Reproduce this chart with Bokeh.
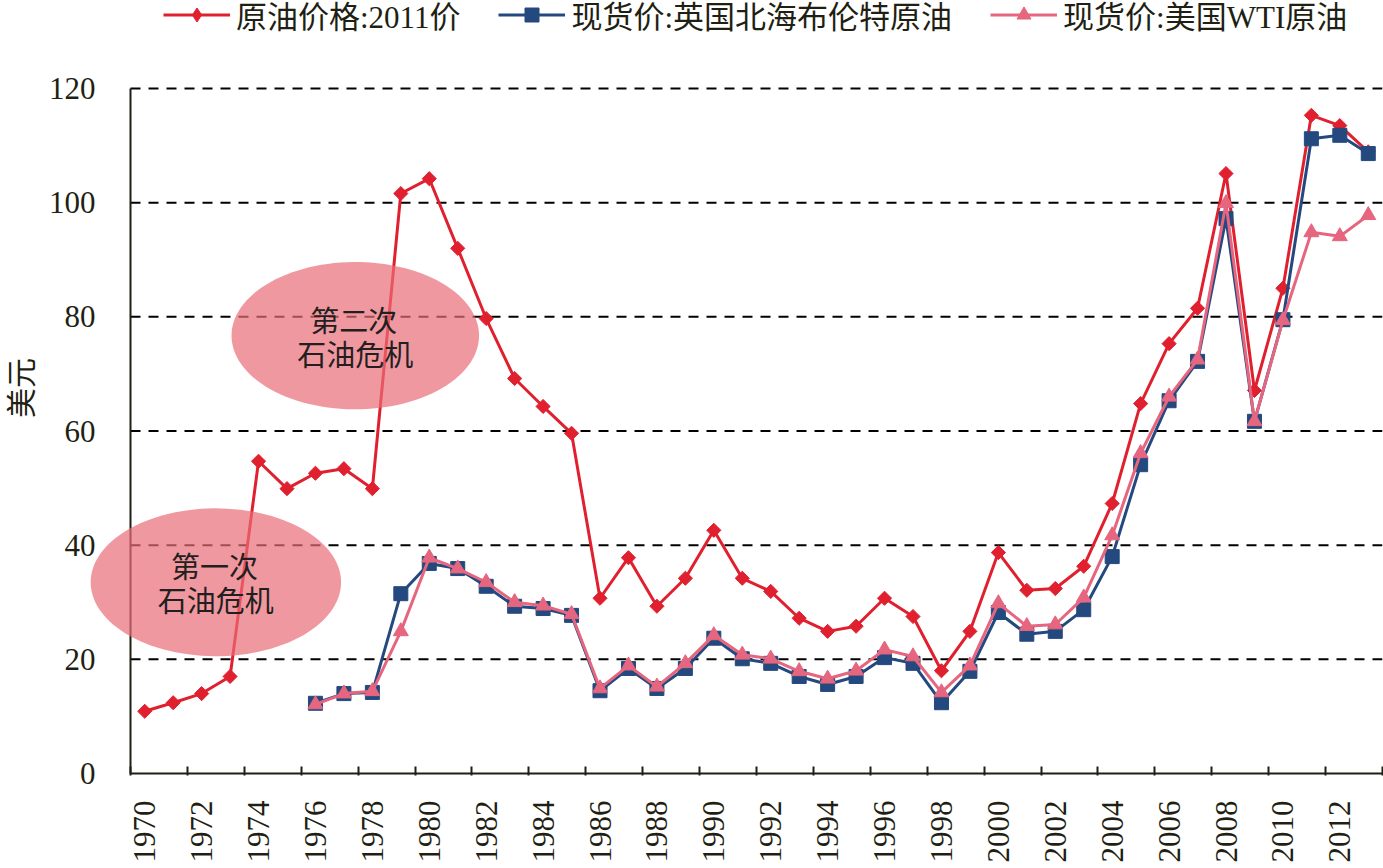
import numpy as np
from bokeh.plotting import figure
from bokeh.models import Range1d, FixedTicker, Legend, LegendItem, PolyAnnotation, Label
from bokeh.embed import file_html
from bokeh.resources import INLINE

# ---------------- data ----------------
years = list(range(1970, 2014))
spot_years = list(range(1976, 2014))
real_2011 = [10.9, 12.4, 14.0, 17.0, 54.7, 49.9, 52.6, 53.4, 49.9, 101.6,
             104.2, 92.0, 79.7, 69.2, 64.3, 59.6, 30.7, 37.8, 29.3, 34.2,
             42.6, 34.2, 31.9, 27.2, 24.9, 25.8, 30.7, 27.5, 18.0, 24.9,
             38.7, 32.1, 32.4, 36.3, 47.3, 64.8, 75.3, 81.5, 105.1, 67.1,
             85.0, 115.3, 113.5, 108.9]
brent = [12.3, 14.0, 14.2, 31.5,
         36.8, 35.9, 32.8, 29.3, 28.9, 27.7, 14.5, 18.4, 14.9, 18.4,
         23.7, 20.1, 19.3, 17.0, 15.6, 17.0, 20.3, 19.3, 12.4, 17.9,
         28.2, 24.4, 24.9, 28.7, 38.0, 54.1, 65.3, 72.2, 97.2, 61.7,
         79.5, 111.2, 111.8, 108.6]
wti = [12.1, 14.0, 14.4, 24.9,
       37.8, 35.9, 33.5, 30.0, 29.4, 27.9, 14.9, 18.9, 15.2, 19.3,
       24.2, 20.8, 20.1, 17.9, 16.6, 18.0, 21.7, 20.5, 14.2, 18.9,
       29.8, 25.8, 26.1, 30.8, 41.7, 56.1, 66.0, 72.5, 99.9, 61.7,
       79.4, 94.8, 94.1, 97.8]
series_names = ["原油价格:2011价", "现货价:英国北海布伦特原油", "现货价:美国WTI原油"]
x_tick_years = list(range(1970, 2013, 2))
x_tick_labels = [str(y) for y in x_tick_years]
y_ticks = [0, 20, 40, 60, 80, 100, 120]
y_label = "美元"
crisis_texts = [("第一次", "石油危机"), ("第二次", "石油危机")]
# crisis annotation: (center year, center value, width in years, height in value)
crisis_ellipses = [(1972.5, 33.5, 8.8, 25.9), (1977.4, 76.7, 8.7, 25.8)]

# ---------------- style ----------------
RED = "#E0202E"
BLUE = "#24497F"
PINK = "#E5667E"
ELL = "#EA6C78"
AXIS = "#1F1F14"
LATIN_CJK = "Liberation Serif, Noto Sans CJK SC"

W, H = 1383, 868
FRAME_LEFT, FRAME_RIGHT = 88, 1382        # frame in canvas px
FRAME_BOTTOM = 775                        # frame spans y 0..775 (legend lives inside it)
AXIS_X_PX = 130                           # y axis position
VALUE_TOP_PX = 88                         # pixel of value 120
X0, X1 = years[0] - 0.5, years[-1] + 0.5  # category band edges
px_per_year = (FRAME_RIGHT - AXIS_X_PX) / (X1 - X0)
x_start = X0 - (AXIS_X_PX - FRAME_LEFT) / px_per_year
y0 = -0.35
px_per_val = (FRAME_BOTTOM - 2 - VALUE_TOP_PX) / y_ticks[-1]
y_end = y0 + FRAME_BOTTOM / px_per_val

p = figure(width=W, height=H,
           x_range=Range1d(x_start, X1), y_range=Range1d(y0, y_end),
           output_backend="svg", toolbar_location=None,
           min_border_left=FRAME_LEFT, min_border_right=W - FRAME_RIGHT,
           min_border_top=0, min_border_bottom=H - FRAME_BOTTOM)
p.outline_line_color = None
p.background_fill_color = "white"
p.border_fill_color = "white"

# x axis: labels at the year centres, tick marks at band edges (every 2 years)
p.xaxis.ticker = FixedTicker(ticks=x_tick_years,
                             minor_ticks=[y - 0.5 for y in x_tick_years] + [X1])
p.xaxis.major_label_overrides = {y: s for y, s in zip(x_tick_years, x_tick_labels)}
p.xaxis.major_label_orientation = np.pi / 2
p.xaxis.axis_line_color = None
p.xaxis.major_tick_line_color = None
p.xaxis.major_tick_in = 0
p.xaxis.major_tick_out = 0
p.xaxis.minor_tick_in = 9
p.xaxis.minor_tick_out = 0
p.xaxis.minor_tick_line_color = AXIS
p.xaxis.minor_tick_line_width = 2
p.xaxis.major_label_standoff = 25

p.yaxis.ticker = FixedTicker(ticks=y_ticks)
p.yaxis.axis_line_color = None
p.yaxis.minor_tick_line_color = None
p.yaxis.minor_tick_in = 0
p.yaxis.minor_tick_out = 0
p.yaxis.major_tick_line_color = None
p.yaxis.major_tick_in = 0
p.yaxis.major_tick_out = 0
p.yaxis.major_label_standoff = -7
p.yaxis.axis_label = y_label
p.yaxis.axis_label_text_font = LATIN_CJK
p.yaxis.axis_label_text_font_style = "normal"
p.yaxis.axis_label_text_font_size = "30px"
p.yaxis.axis_label_text_color = AXIS
p.yaxis.axis_label_standoff = 8

for ax in (p.xaxis, p.yaxis):
    ax.major_label_text_font = "Liberation Serif"
    ax.major_label_text_font_size = "31px"
    ax.major_label_text_color = AXIS

p.xgrid.visible = False
p.ygrid.visible = False

# dashed value grid and axis lines, starting at the y axis
gy = y_ticks[1:]
p.segment(x0=[X0] * len(gy), y0=gy, x1=[X1] * len(gy), y1=gy,
          line_color="black", line_dash="10 8", line_width=2)
p.segment(x0=[X0, X0], y0=[0, 0], x1=[X1, X0], y1=[0, y_ticks[-1]],
          line_color=AXIS, line_width=2)

# series
l1 = p.line(years, real_2011, color=RED, line_width=3)
m1 = p.scatter(years, real_2011, marker="square", angle=np.pi / 4, size=10, color=RED)
l2 = p.line(spot_years, brent, color=BLUE, line_width=3)
m2 = p.scatter(spot_years, brent, marker="square", size=14, color=BLUE)
l3 = p.line(spot_years, wti, color=PINK, line_width=3)
m3 = p.scatter(spot_years, wti, marker="triangle", size=15, color=PINK)
# legend-only diamond swatch (a single NaN point, never drawn in the plot)
m1_key = p.scatter(x=np.array([np.nan]), y=np.array([np.nan]), marker="diamond", size=14, color=RED)

# crisis ellipses
t = np.linspace(0, 2 * np.pi, 120)
for (cx, cy, w, h), (t1, t2) in zip(crisis_ellipses, crisis_texts):
    p.add_layout(PolyAnnotation(xs=list(cx + w / 2 * np.cos(t)), ys=list(cy + h / 2 * np.sin(t)),
                                fill_color=ELL, fill_alpha=0.7, line_color=None))
    p.add_layout(Label(x=cx - 0.05, y=cy + 3.0, text=t1, text_align="center", text_baseline="middle",
                       text_font="Noto Sans CJK SC", text_font_size="29px", text_color="#231F20"))
    p.add_layout(Label(x=cx, y=cy - 3.0, text=t2, text_align="center", text_baseline="middle",
                       text_font="Noto Sans CJK SC", text_font_size="29px", text_color="#231F20"))

LEG_H = 35
legend = Legend(items=[LegendItem(label=series_names[0], renderers=[l1, m1_key]),
                       LegendItem(label=series_names[1], renderers=[l2, m2]),
                       LegendItem(label=series_names[2], renderers=[l3, m3])],
                orientation="horizontal", location=(163 - FRAME_LEFT, FRAME_BOTTOM - 19 - LEG_H / 2),
                glyph_width=67, glyph_height=LEG_H, label_height=LEG_H, label_standoff=6,
                spacing=38, padding=0, margin=0,
                label_text_font=LATIN_CJK, label_text_font_size="31px", label_text_color=AXIS,
                background_fill_alpha=0, border_line_color=None)
p.add_layout(legend, "center")

open("out.html", "w").write(file_html(p, INLINE))
